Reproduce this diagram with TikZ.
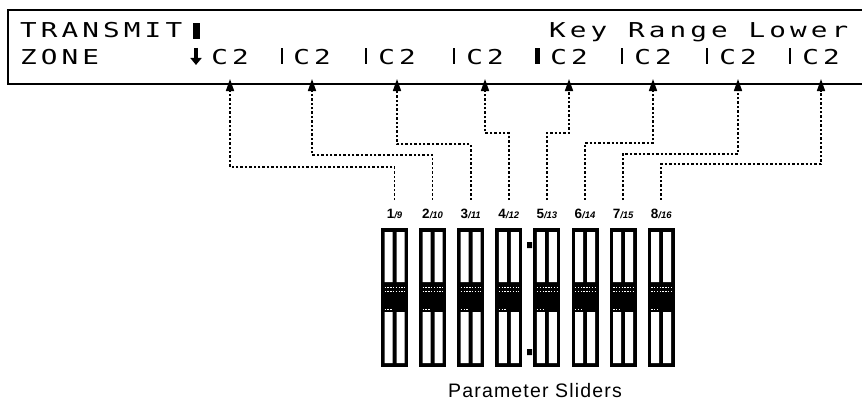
\documentclass[tikz,border=0pt]{standalone}
\usepackage{fontspec}
\setmainfont{Liberation Sans}
\newfontfamily\lcdfont[FakeStretch=1.35,LetterSpace=20]{DejaVu Sans Mono}
\newfontfamily\capfont[LetterSpace=6]{Liberation Sans}
\usetikzlibrary{arrows.meta}
\tikzset{
  kr frame/.style={line width=2.6pt},
  kr lcd/.style={font=\lcdfont\fontsize{20.5}{20.5}\selectfont,inner sep=0pt,anchor=base},
  kr link/.style={line width=1.6pt,dash pattern=on 2.4pt off 2pt,shorten <=8pt,
    -{Triangle[length=12pt,width=8pt]}},
  kr label/.style={font=\bfseries\fontsize{13.5}{13.5}\selectfont,inner sep=1pt},
  kr knob/.style={white,line width=0.8pt,dash pattern=on 1.4pt off 1.4pt},
  kr caption/.style={font=\capfont\fontsize{19.5}{19.5}\selectfont,inner sep=0pt,anchor=base}
}

\begin{document}
\begin{tikzpicture}[x=1pt,y=-1pt]
  \useasboundingbox (0,0) rectangle (862,404);
  \draw[kr frame] (862,10) -- (8,10) -- (8,84) -- (862,84);
  \node[kr lcd,anchor=base west] (transmit) at (20,38) {TRANSMIT};
  \fill (193,23) rectangle (200,39);
  \node[kr lcd,anchor=base west] (zone) at (20,64) {ZONE};
  \node[kr lcd,anchor=base west] (keyrange) at (549,38) {Key Range Lower};
  \draw[line width=4pt,-{Triangle[length=7pt,width=11pt]}] (196,48) -- (196,65);
  \foreach \x [count=\i] in {230,312,397,485,569,653,738,821}{
    \node[kr lcd] (field\i) at (\x,64) {C2};
    \coordinate (tip\i) at (\x,79);
  }
  \foreach \x in {282,366,454,622,707,790}
    \fill (\x-1.2,48) rectangle (\x+1.2,64);
  \fill (535,48) rectangle (540,64);
  \foreach \nr/\nb/\ey [count=\i] in {1/9/167,2/10/155,3/11/144,4/12/133,5/13/133,6/14/143,7/15/154,8/16/164}{
    \pgfmathsetmacro\cx{394.5+38.1*(\i-1)}
    \node[kr label] (label\i) at (\cx,214) {\nr{\fontsize{9.5}{9.5}\selectfont\itshape/\nb}};
    \fill (\cx-13.5,228) rectangle (\cx+13.5,367);
    \fill[white] (\cx-10,232) rectangle (\cx-2,282) (\cx+2,232) rectangle (\cx+10,282)
      (\cx-10,312) rectangle (\cx-2,363) (\cx+2,312) rectangle (\cx+10,363);
    \draw[kr knob] (\cx-10,287) -- (\cx+10,287) (\cx-10,291) -- (\cx+10,291) (\cx-10,309) -- (\cx-2,309);
    \draw[kr link] (label\i.north) |- (tip\i |- 0,\ey) -- (tip\i);
  }
  \fill (527,242) rectangle (532,248) (527,349) rectangle (532,355);
  \node[kr caption] (caption) at (535,397) {Parameter Sliders};
\end{tikzpicture}
\end{document}
